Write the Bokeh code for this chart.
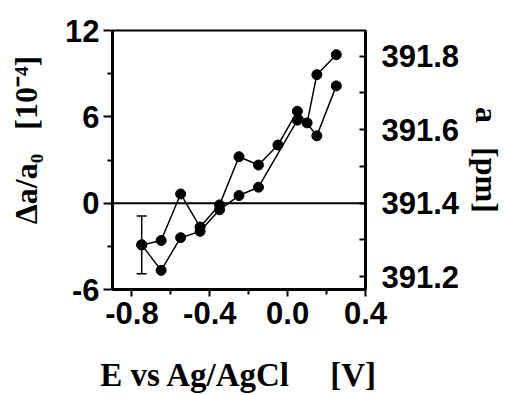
from bokeh.plotting import figure
from bokeh.models import (Range1d, LinearAxis, FixedTicker, PrintfTickFormatter,
                          Span, Whisker, ColumnDataSource, TeeHead)
from bokeh.embed import file_html
from bokeh.resources import INLINE

# ---- data ----
x_lower = [-0.75, -0.65, -0.55, -0.45, -0.35, -0.25, -0.15, 0.05, 0.10, 0.15, 0.25]
y_lower = [-2.9, -4.67, -2.40, -1.96, -0.46, 0.53, 1.11, 5.77, 5.58, 8.93, 10.32]
x_upper = [-0.75, -0.65, -0.55, -0.45, -0.35, -0.25, -0.15, -0.05, 0.05, 0.15, 0.25]
y_upper = [-2.9, -2.59, 0.64, -1.66, -0.12, 3.23, 2.65, 4.04, 6.39, 4.68, 8.15]
err_x = [-0.75]
err_y = [-2.9]
err_half = [2.0]

a0 = 391.4
x_ticks = [-0.8, -0.4, 0.0, 0.4]
x_minor = [-0.6, -0.2, 0.2]
y_ticks = [-6, 0, 6, 12]
y_minor = [-3, 3, 9]
a_ticks = [391.2, 391.4, 391.6, 391.8]
a_minor = [391.3, 391.5, 391.7]

NB = "\u00a0"
x_title = "E vs Ag/AgCl" + NB * 4 + " [V]"
y_title = NB * 5 + "\u0394a/a\u2080" + NB * 3 + "[10\u207b\u2074]"
a_title = "a" + NB * 3 + "[pm]"

SANS = "Liberation Sans"
SERIF = "Liberation Serif"
TICK_FS = "31px"

p = figure(width=508, height=395, output_backend="svg", toolbar_location=None,
           x_range=Range1d(-0.9, 0.4), y_range=Range1d(-6, 12),
           min_border_left=112, min_border_right=136, min_border_top=30,
           min_border_bottom=105)
p.grid.visible = False
p.outline_line_color = "black"
p.outline_line_width = 2
p.background_fill_color = "white"
p.border_fill_color = "white"

p.extra_y_ranges = {"a": Range1d(a0 * (1 - 6e-4), a0 * (1 + 12e-4))}

ya = p.yaxis[0]
ya.ticker = FixedTicker(ticks=y_ticks, minor_ticks=y_minor)
ya.formatter = PrintfTickFormatter(format="%d")
xa = p.xaxis[0]
xa.ticker = FixedTicker(ticks=x_ticks, minor_ticks=x_minor)
xa.formatter = PrintfTickFormatter(format="%.1f")

ra = LinearAxis(y_range_name="a",
                ticker=FixedTicker(ticks=a_ticks, minor_ticks=a_minor),
                formatter=PrintfTickFormatter(format="%.1f"))
p.add_layout(ra, "right")

xa.axis_label = x_title
ya.axis_label = y_title
ra.axis_label = a_title

for ax in (xa, ya, ra):
    ax.axis_line_width = 3
    ax.axis_line_color = "black"
    ax.major_tick_line_width = 2
    ax.minor_tick_line_width = 2
    ax.major_tick_line_color = "black"
    ax.minor_tick_line_color = "black"
    ax.major_label_text_font = SANS
    ax.major_label_text_font_style = "bold"
    ax.major_label_text_font_size = TICK_FS
    ax.major_label_text_color = "black"
    ax.axis_label_text_font = SERIF
    ax.axis_label_text_font_style = "bold"
    ax.axis_label_text_color = "black"

xa.axis_label_text_font_size = "33px"
ya.axis_label_text_font_size = "32px"
ra.axis_label_text_font_size = "32px"

ya.major_tick_out = 9
ya.major_tick_in = 0
ya.minor_tick_out = 5
ya.minor_tick_in = 0
ya.major_label_standoff = 4
ya.axis_label_standoff = 18

xa.major_tick_out = 7
xa.major_tick_in = 0
xa.minor_tick_out = 5
xa.minor_tick_in = 0
xa.major_label_standoff = 5
xa.axis_label_standoff = 30

ra.major_tick_out = 0
ra.major_tick_in = 6
ra.minor_tick_out = 0
ra.minor_tick_in = 6
ra.major_label_standoff = 16
ra.axis_label_standoff = 7

p.add_layout(Span(location=0, dimension="width", line_color="black", line_width=2))

p.line(x_lower, y_lower, line_color="black", line_width=1.5)
p.line(x_upper, y_upper, line_color="black", line_width=1.5)
p.scatter(x_lower, y_lower, size=10, marker="circle", fill_color="black", line_color="black")
p.scatter(x_upper, y_upper, size=10, marker="circle", fill_color="black", line_color="black")

esrc = ColumnDataSource(dict(x=err_x,
                             lo=[y - e for y, e in zip(err_y, err_half)],
                             hi=[y + e for y, e in zip(err_y, err_half)]))
p.add_layout(Whisker(base="x", lower="lo", upper="hi", source=esrc,
                     line_color="black", line_width=1.5,
                     lower_head=TeeHead(size=10, line_width=1.5, line_color="black"),
                     upper_head=TeeHead(size=10, line_width=1.5, line_color="black")))

open("out.html", "w").write(file_html(p, INLINE))
